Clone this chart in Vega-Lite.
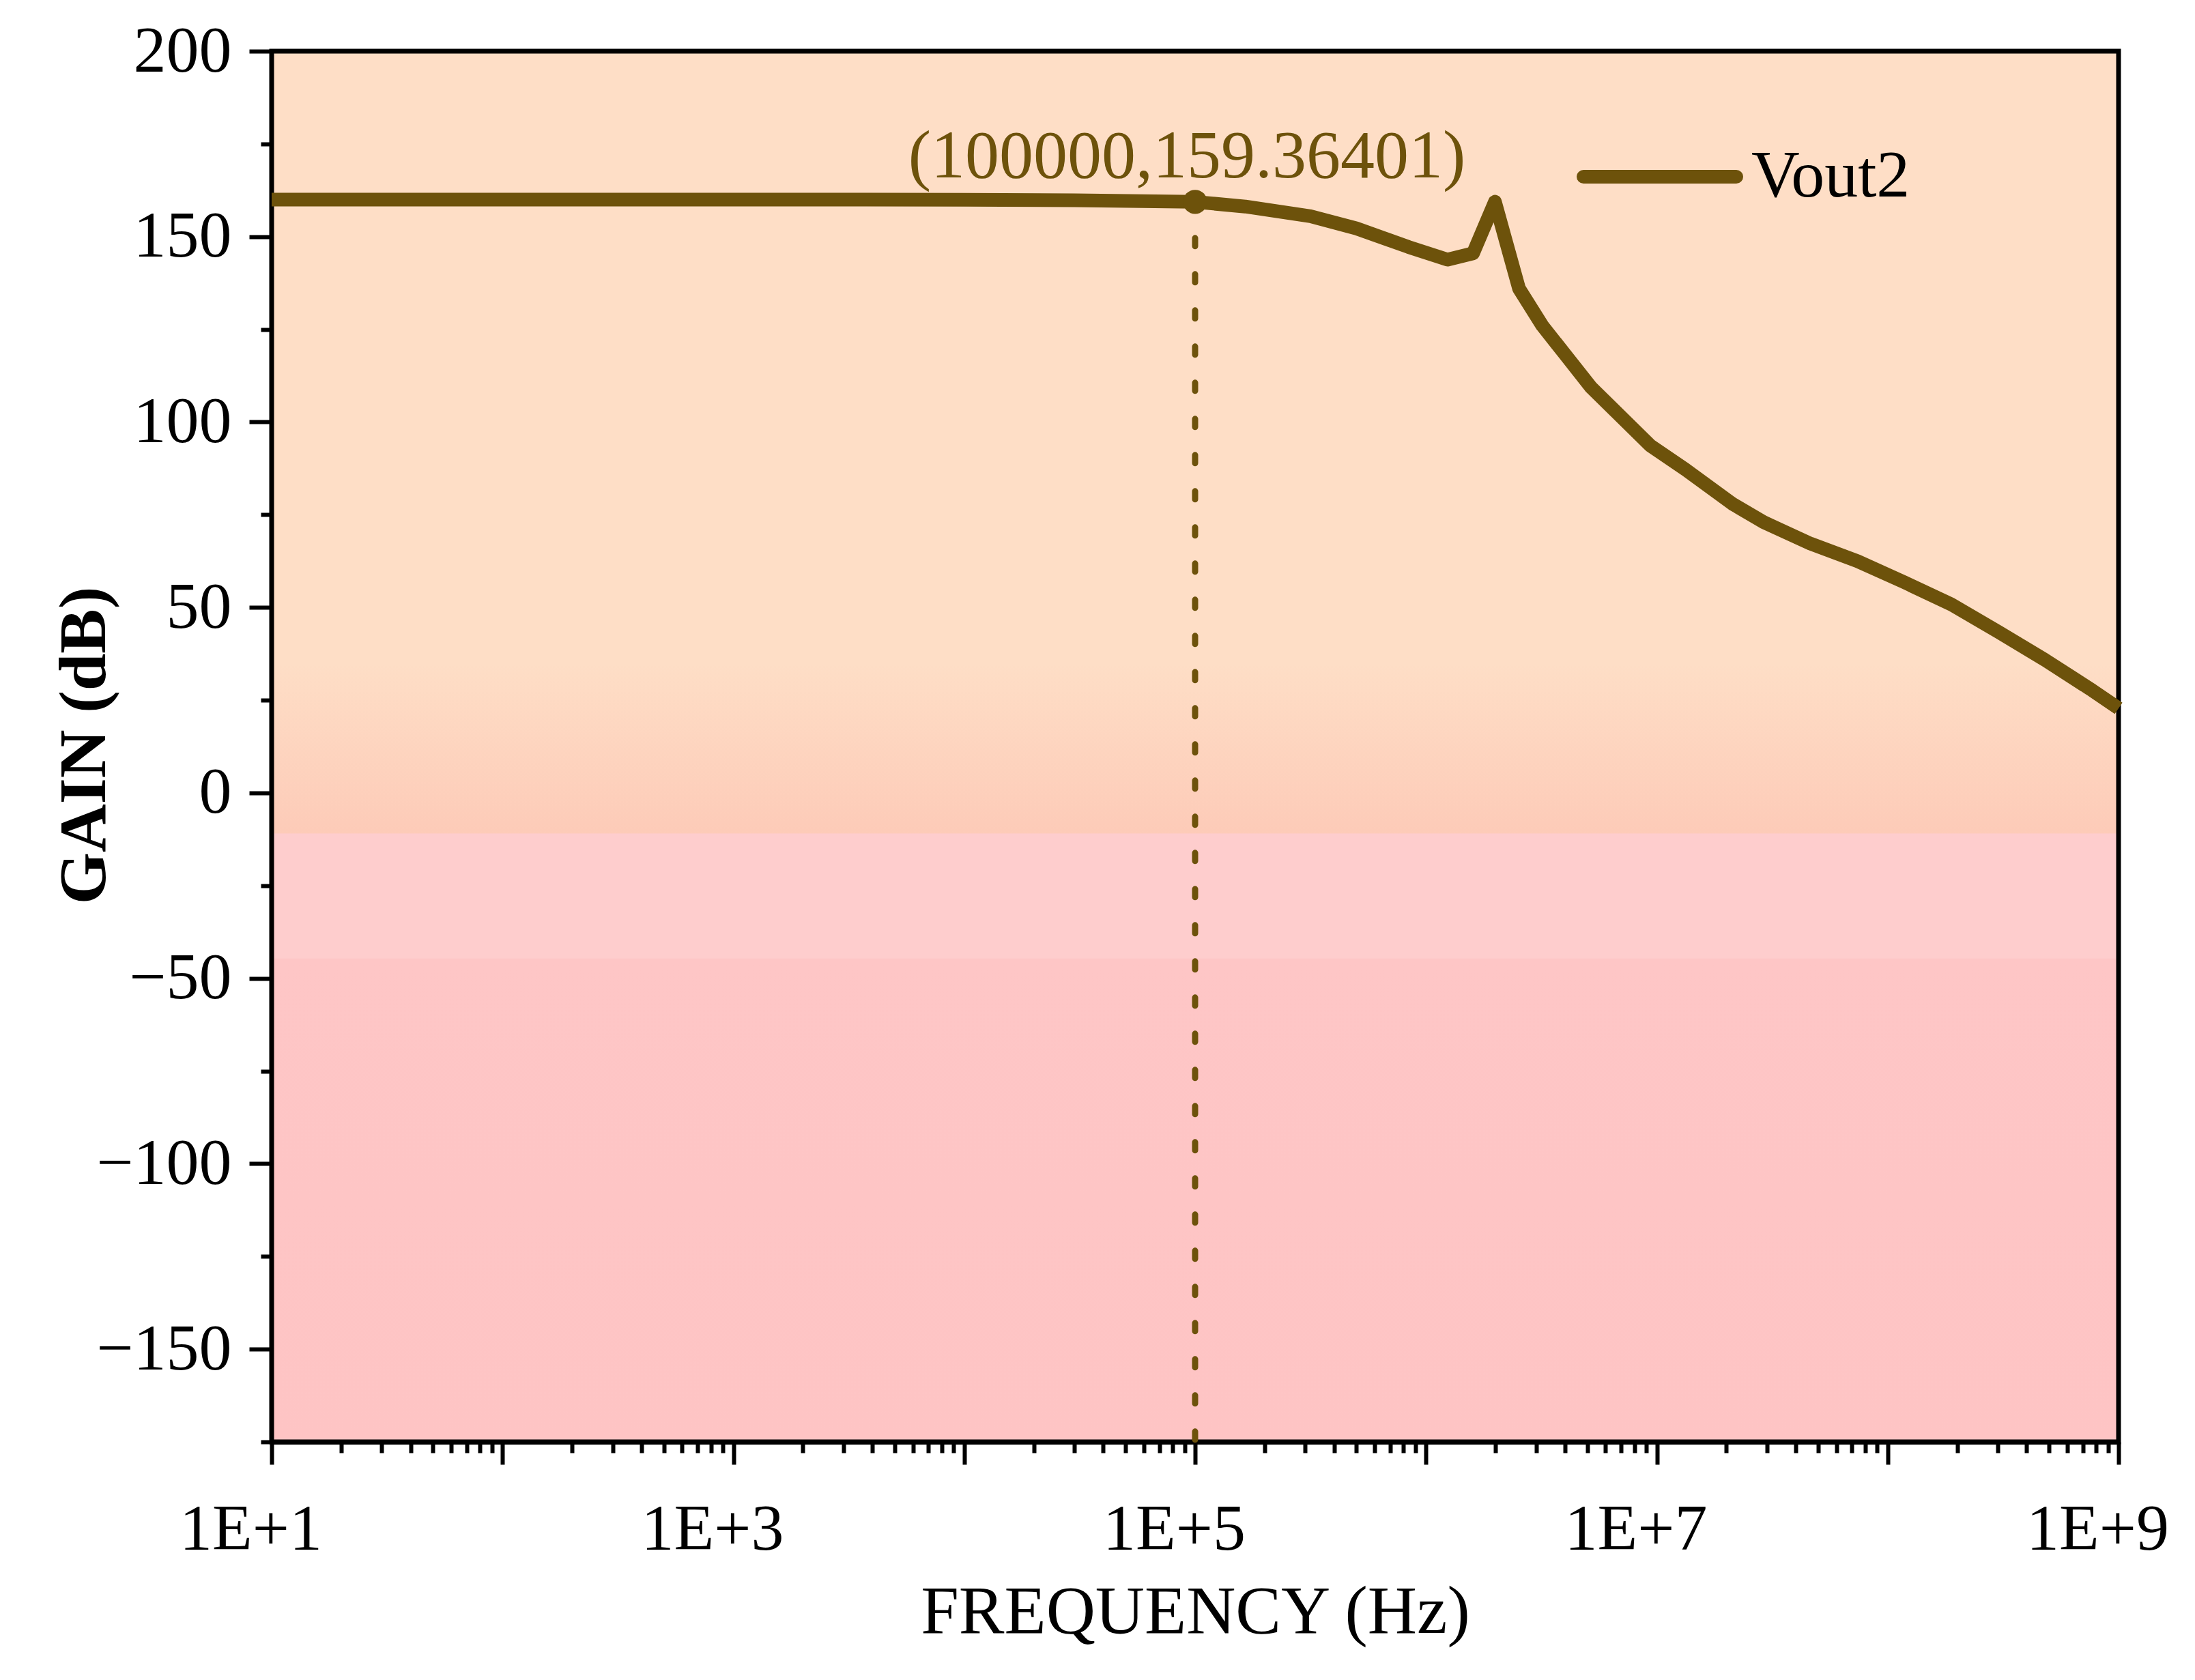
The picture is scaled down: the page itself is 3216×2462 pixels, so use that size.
{
  "$schema": "https://vega.github.io/schema/vega-lite/v6.json",
  "autosize": {"type": "none"},
  "width": 2706,
  "height": 2038,
  "padding": {"left": 398, "top": 75, "right": 112, "bottom": 349},
  "background": "white",
  "config": {
    "view": {"stroke": null},
    "font": "Liberation Serif",
    "axis": {"labelFont": "Liberation Serif", "titleFont": "Liberation Serif", "grid": false, "zindex": 2, "labelLimit": 0, "titleLimit": 0}
  },
  "datasets": {
    "vout2": [
      {"f": 10, "gain": 160.0},
      {"f": 100, "gain": 160.0},
      {"f": 1000, "gain": 160.0},
      {"f": 10000, "gain": 159.95},
      {"f": 30000, "gain": 159.8},
      {"f": 100000, "gain": 159.364},
      {"f": 165000, "gain": 158.1},
      {"f": 316000, "gain": 155.5},
      {"f": 500000, "gain": 152.2},
      {"f": 840000, "gain": 147.2},
      {"f": 1240000, "gain": 143.8},
      {"f": 1600000, "gain": 145.5},
      {"f": 1990000, "gain": 159.4},
      {"f": 2530000, "gain": 136.0},
      {"f": 3190000, "gain": 126.0},
      {"f": 5200000, "gain": 109.3},
      {"f": 9350000, "gain": 93.7},
      {"f": 13300000, "gain": 87.2},
      {"f": 21200000, "gain": 78.0},
      {"f": 29000000, "gain": 73.0},
      {"f": 46300000, "gain": 67.2},
      {"f": 74000000, "gain": 62.5},
      {"f": 118000000, "gain": 56.8},
      {"f": 189000000, "gain": 50.8},
      {"f": 302000000, "gain": 43.4},
      {"f": 479000000, "gain": 35.9},
      {"f": 771000000, "gain": 27.6},
      {"f": 1000000000, "gain": 22.8}
    ],
    "marker": [
      {"f": 100000, "gain": 159.36401, "label": "(100000,159.36401)"}
    ]
  },
  "layer": [
    {
      "data": {"name": "marker"},
      "mark": {
        "type": "rect",
        "stroke": "black",
        "strokeWidth": 7,
        "fill": {
          "gradient": "linear",
          "x1": 0, "y1": 0, "x2": 0, "y2": 1,
          "stops": [
            {"offset": 0, "color": "#FEDEC6"},
            {"offset": 0.44, "color": "#FEDEC6"},
            {"offset": 0.562, "color": "#FDCBB8"},
            {"offset": 0.563, "color": "#FECDCD"},
            {"offset": 0.652, "color": "#FECDCD"},
            {"offset": 0.653, "color": "#FEC6C6"},
            {"offset": 1, "color": "#FEC4C4"}
          ]
        }
      },
      "encoding": {
        "x": {
          "datum": 10,
          "type": "quantitative",
          "scale": {"type": "log", "domain": [10, 1000000000], "nice": false},
          "axis": {
            "orient": "bottom",
            "values": [10, 100, 1000, 10000, 100000, 1000000, 10000000, 100000000, 1000000000],
            "labelExpr": "round(log(datum.value)/LN10) % 2 == 1 ? '1E+' + round(log(datum.value)/LN10) : ''",
            "labelFontSize": 96,
            "labelColor": "black",
            "labelPadding": 48,
            "labelOffset": -31,
            "labelFlush": false,
            "labelOverlap": false,
            "labelBaseline": "top",
            "tickSize": 33,
            "tickWidth": 6,
            "tickColor": "black",
            "domainColor": "black",
            "domainWidth": 7,
            "title": "FREQUENCY (Hz)",
            "titleFontSize": 100,
            "titleFontWeight": "normal",
            "titleColor": "black",
            "titleBaseline": "top",
            "titleY": 200
          }
        },
        "x2": {"datum": 1000000000},
        "y": {
          "datum": 200,
          "type": "quantitative",
          "scale": {"domain": [-175, 200], "nice": false, "zero": false},
          "axis": {
            "orient": "left",
            "values": [-150, -100, -50, 0, 50, 100, 150, 200],
            "labelFontSize": 96,
            "labelColor": "black",
            "labelPadding": 26,
            "labelBaseline": "middle",
            "tickSize": 33,
            "tickWidth": 6,
            "tickColor": "black",
            "domainColor": "black",
            "domainWidth": 7,
            "title": "GAIN (dB)",
            "titleFontSize": 98,
            "titleFontWeight": "bold",
            "titleColor": "black",
            "titleAngle": -90,
            "titleX": -245,
            "titleY": 1017,
            "titleAlign": "center",
            "titleBaseline": "alphabetic"
          }
        },
        "y2": {"datum": -175}
      }
    },
    {
      "data": {"name": "marker"},
      "mark": {"type": "rule", "color": "#6D520B", "strokeWidth": 9, "strokeDash": [12, 41], "strokeCap": "round"},
      "encoding": {
        "x": {"field": "f", "type": "quantitative", "axis": null},
        "y": {"field": "gain", "type": "quantitative", "axis": null},
        "y2": {"datum": -175}
      }
    },
    {
      "data": {"name": "vout2"},
      "mark": {"type": "line", "strokeWidth": 20, "strokeJoin": "round", "strokeCap": "butt"},
      "encoding": {
        "x": {
          "field": "f",
          "type": "quantitative",
          "axis": {
            "orient": "bottom",
            "values": [20, 30, 40, 50, 60, 70, 80, 90, 200, 300, 400, 500, 600, 700, 800, 900, 2000, 3000, 4000, 5000, 6000, 7000, 8000, 9000, 20000, 30000, 40000, 50000, 60000, 70000, 80000, 90000, 200000, 300000, 400000, 500000, 600000, 700000, 800000, 900000, 2000000, 3000000, 4000000, 5000000, 6000000, 7000000, 8000000, 9000000, 20000000, 30000000, 40000000, 50000000, 60000000, 70000000, 80000000, 90000000, 200000000, 300000000, 400000000, 500000000, 600000000, 700000000, 800000000, 900000000],
            "labels": false,
            "domain": false,
            "tickSize": 16,
            "tickWidth": 6,
            "tickColor": "black",
            "title": null
          }
        },
        "y": {
          "field": "gain",
          "type": "quantitative",
          "axis": {
            "orient": "left",
            "values": [-175, -125, -75, -25, 25, 75, 125, 175],
            "labels": false,
            "domain": false,
            "tickSize": 16,
            "tickWidth": 6,
            "tickColor": "black",
            "title": null
          }
        },
        "color": {
          "datum": "Vout2",
          "type": "nominal",
          "scale": {"range": ["#6D520B"]},
          "legend": {
            "orient": "none",
            "legendX": 1912,
            "legendY": 62,
            "title": null,
            "padding": 0,
            "symbolType": "stroke",
            "symbolSize": 50176,
            "symbolStrokeWidth": 20,
            "labelFont": "Liberation Serif",
            "labelFontSize": 98,
            "labelColor": "black",
            "labelLimit": 0,
            "labelOffset": 12,
            "labelBaseline": "middle",
            "encode": {"symbols": {"update": {"strokeCap": {"value": "round"}}}}
          }
        }
      }
    },
    {
      "data": {"name": "marker"},
      "mark": {"type": "point", "filled": true, "size": 1250, "color": "#6D520B", "opacity": 1},
      "encoding": {
        "x": {"field": "f", "type": "quantitative", "axis": null},
        "y": {"field": "gain", "type": "quantitative", "axis": null}
      }
    },
    {
      "data": {"name": "marker"},
      "mark": {"type": "text", "fontSize": 100, "font": "Liberation Serif", "color": "#6D520B", "align": "center", "baseline": "alphabetic", "dy": -36, "dx": -12},
      "encoding": {
        "x": {"field": "f", "type": "quantitative", "axis": null},
        "y": {"field": "gain", "type": "quantitative", "axis": null},
        "text": {"field": "label"}
      }
    }
  ],
  "resolve": {"axis": {"x": "independent", "y": "independent"}}
}
